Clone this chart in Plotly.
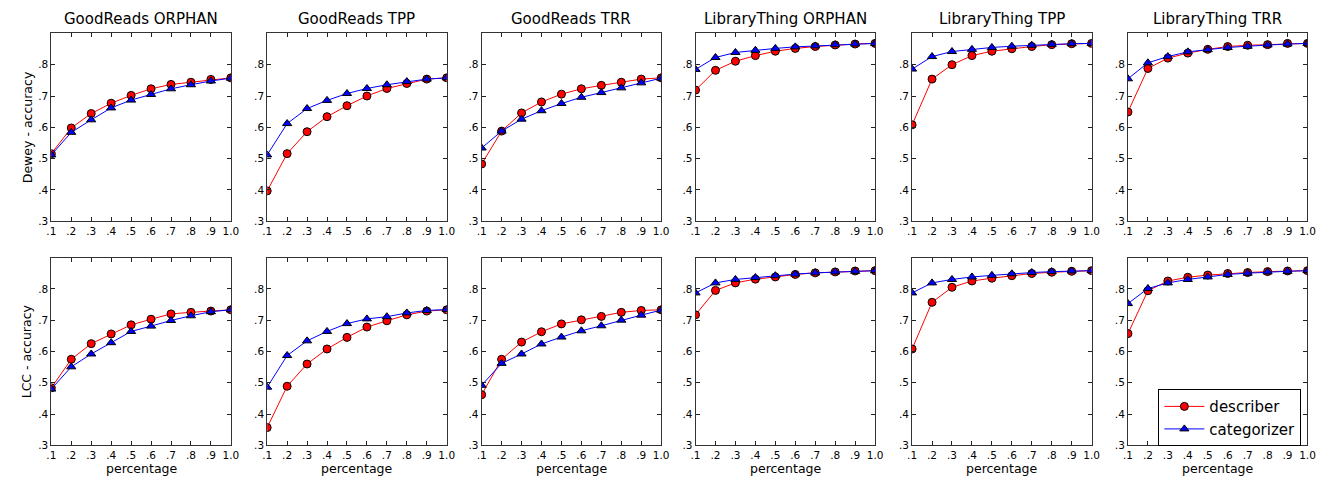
import plotly.graph_objects as go

x_vals = [0.1, 0.2, 0.3, 0.4, 0.5, 0.6, 0.7, 0.8, 0.9, 1.0]
x_ticktext = [".1", ".2", ".3", ".4", ".5", ".6", ".7", ".8", ".9", "1.0"]
y_tickvals = [0.3, 0.4, 0.5, 0.6, 0.7, 0.8]
y_ticktext = [".3", ".4", ".5", ".6", ".7", ".8"]

panel_titles = ["GoodReads ORPHAN", "GoodReads TPP", "GoodReads TRR",
                "LibraryThing ORPHAN", "LibraryThing TPP", "LibraryThing TRR"]
row_labels = ["Dewey - accuracy", "LCC - accuracy"]
series_names = ["describer", "categorizer"]

# Dewey row
dewey_describer = [
    [0.516, 0.598, 0.644, 0.677, 0.702, 0.723, 0.737, 0.744, 0.753, 0.758],
    [0.397, 0.516, 0.586, 0.634, 0.669, 0.700, 0.724, 0.740, 0.754, 0.758],
    [0.483, 0.588, 0.646, 0.681, 0.706, 0.723, 0.734, 0.744, 0.754, 0.758],
    [0.719, 0.782, 0.811, 0.829, 0.843, 0.852, 0.858, 0.863, 0.866, 0.868],
    [0.608, 0.754, 0.800, 0.829, 0.843, 0.851, 0.858, 0.864, 0.867, 0.868],
    [0.649, 0.788, 0.821, 0.837, 0.849, 0.858, 0.862, 0.864, 0.868, 0.868],
]
dewey_categorizer = [
    [0.512, 0.584, 0.624, 0.662, 0.687, 0.705, 0.723, 0.736, 0.748, 0.757],
    [0.512, 0.612, 0.660, 0.686, 0.708, 0.724, 0.736, 0.746, 0.754, 0.758],
    [0.534, 0.588, 0.626, 0.653, 0.676, 0.696, 0.711, 0.726, 0.742, 0.757],
    [0.785, 0.823, 0.839, 0.846, 0.852, 0.857, 0.860, 0.864, 0.866, 0.868],
    [0.786, 0.826, 0.842, 0.849, 0.855, 0.859, 0.862, 0.865, 0.867, 0.868],
    [0.755, 0.806, 0.826, 0.841, 0.848, 0.855, 0.859, 0.863, 0.866, 0.868],
]
# LCC row
lcc_describer = [
    [0.484, 0.575, 0.625, 0.656, 0.685, 0.703, 0.720, 0.725, 0.729, 0.733],
    [0.357, 0.489, 0.560, 0.608, 0.645, 0.678, 0.698, 0.717, 0.729, 0.733],
    [0.462, 0.575, 0.630, 0.663, 0.688, 0.701, 0.712, 0.725, 0.731, 0.733],
    [0.717, 0.795, 0.819, 0.831, 0.838, 0.846, 0.851, 0.854, 0.857, 0.858],
    [0.608, 0.757, 0.805, 0.825, 0.834, 0.842, 0.849, 0.853, 0.856, 0.858],
    [0.657, 0.794, 0.825, 0.837, 0.844, 0.849, 0.852, 0.855, 0.857, 0.858],
]
lcc_categorizer = [
    [0.480, 0.551, 0.592, 0.628, 0.664, 0.681, 0.699, 0.714, 0.727, 0.733],
    [0.486, 0.587, 0.634, 0.664, 0.689, 0.704, 0.711, 0.723, 0.731, 0.734],
    [0.492, 0.562, 0.592, 0.624, 0.646, 0.666, 0.682, 0.700, 0.716, 0.732],
    [0.787, 0.819, 0.830, 0.836, 0.842, 0.847, 0.851, 0.854, 0.856, 0.858],
    [0.787, 0.819, 0.830, 0.838, 0.843, 0.848, 0.852, 0.855, 0.857, 0.858],
    [0.753, 0.801, 0.819, 0.830, 0.838, 0.846, 0.850, 0.854, 0.856, 0.858],
]

W, H = 1326, 477
FONT = "DejaVu Sans"
col_left = [38.7, 256.7, 473.3, 689.3, 908.0, 1126.0]
col_width = 181.3
row_top = [25.7, 252.7]
row_height = 190.3

fig = go.Figure()
layout = {}
annotations = []

data_rows = [(dewey_describer, dewey_categorizer), (lcc_describer, lcc_categorizer)]

for r in range(2):
    for c in range(6):
        idx = r * 6 + c + 1
        xa = "xaxis" if idx == 1 else f"xaxis{idx}"
        ya = "yaxis" if idx == 1 else f"yaxis{idx}"
        xref = "x" if idx == 1 else f"x{idx}"
        yref = "y" if idx == 1 else f"y{idx}"
        x0 = col_left[c] / W
        x1 = (col_left[c] + col_width) / W
        y1 = 1 - row_top[r] / H
        y0 = 1 - (row_top[r] + row_height) / H
        common = dict(showline=True, linecolor="#333333", linewidth=1, mirror="allticks",
                      ticks="inside", ticklen=4, tickwidth=1, tickcolor="#222222",
                      showgrid=False, zeroline=False,
                      tickfont=dict(family=FONT, size=10.5, color="black"))
        layout[xa] = dict(domain=[x0, x1], range=[0.1, 1.0], anchor=yref,
                          tickvals=x_vals, ticktext=x_ticktext, **common)
        layout[ya] = dict(domain=[y0, y1], range=[0.3, 0.9], anchor=xref,
                          tickvals=y_tickvals, ticktext=y_ticktext, **common)
        desc, cat = data_rows[r]
        fig.add_trace(go.Scatter(
            x=x_vals, y=desc[c], mode="lines+markers", name=series_names[0],
            xaxis=xref, yaxis=yref, showlegend=(idx == 1), legendgroup="d",
            line=dict(color="red", width=1),
            marker=dict(symbol="circle", size=8, color="red",
                        line=dict(color="black", width=1))))
        fig.add_trace(go.Scatter(
            x=x_vals, y=cat[c], mode="lines+markers", name=series_names[1],
            xaxis=xref, yaxis=yref, showlegend=(idx == 1), legendgroup="c",
            line=dict(color="blue", width=1),
            marker=dict(symbol="triangle-up", size=8, color="blue",
                        line=dict(color="black", width=1))))
        if r == 0:
            annotations.append(dict(
                text=panel_titles[c], xref="paper", yref="paper",
                x=(x0 + x1) / 2, y=y1, yshift=3, xanchor="center", yanchor="bottom",
                showarrow=False, font=dict(family=FONT, size=15, color="black")))
        if r == 1:
            annotations.append(dict(
                text="percentage", xref="paper", yref="paper",
                x=(x0 + x1) / 2, y=y0, yshift=-14, xanchor="center", yanchor="top",
                showarrow=False, font=dict(family=FONT, size=12.5, color="black")))
        if c == 0:
            annotations.append(dict(
                text=row_labels[r], xref="paper", yref="paper",
                x=14 / W, y=(y0 + y1) / 2, xanchor="center", yanchor="middle",
                textangle=-90, showarrow=False,
                font=dict(family=FONT, size=12.5, color="black")))

fig.update_layout(
    width=W, height=H,
    margin=dict(l=0, r=0, t=0, b=0),
    paper_bgcolor="white", plot_bgcolor="white",
    annotations=annotations,
    legend=dict(x=1156.7 / W, y=1 - 386 / H, xanchor="left", yanchor="top",
                bgcolor="white", bordercolor="black", borderwidth=1,
                font=dict(family=FONT, size=15, color="black"),
                itemwidth=40, tracegroupgap=0),
    **layout,
)

fig.write_html("out.html")
